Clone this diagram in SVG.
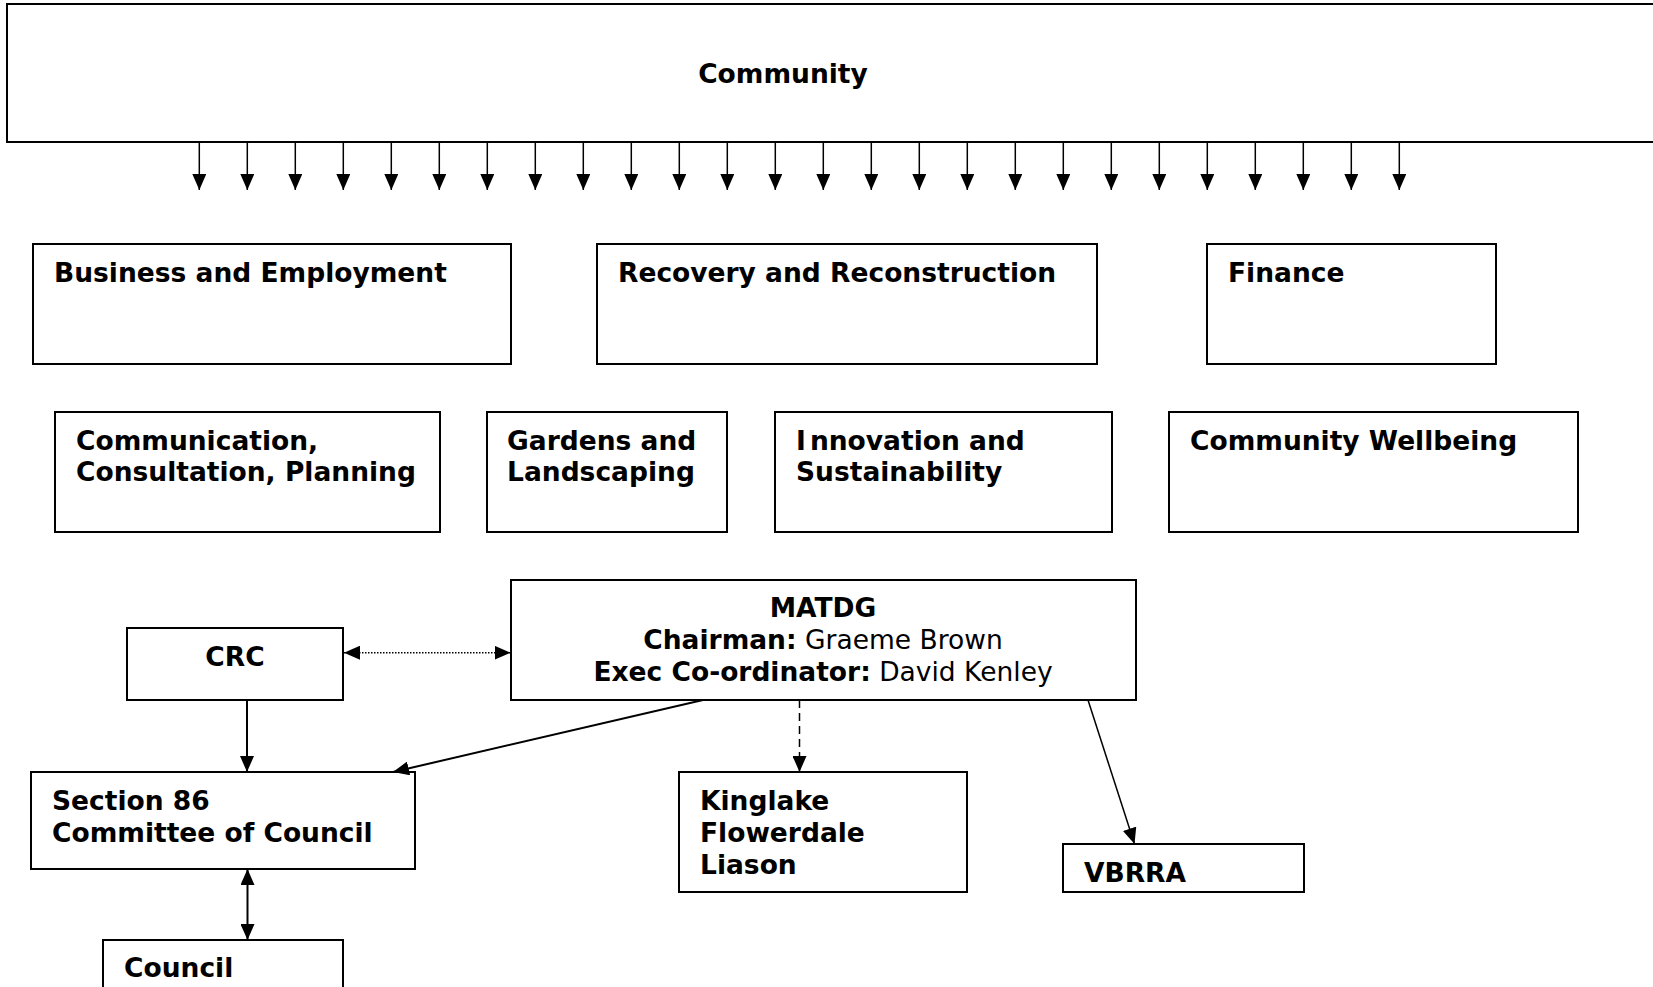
<svg xmlns="http://www.w3.org/2000/svg" width="1653" height="987" viewBox="0 0 1653 987">
<defs>
<style>
.box{fill:#fff;stroke:#000;stroke-width:2}
.t{font-family:"DejaVu Sans","Liberation Sans",sans-serif;font-size:26.5px;font-weight:bold;fill:#000}
.r{font-weight:normal}
.c{stroke:#000;stroke-width:2;fill:none}
.thin{stroke-width:1.5}
.dot{stroke-dasharray:1.5 1.5;stroke-width:1.5}
.dash{stroke-dasharray:8 5;stroke-width:1.5}
</style>
<marker id="ah" markerUnits="userSpaceOnUse" markerWidth="16" markerHeight="14" refX="16" refY="7" orient="auto-start-reverse" viewBox="0 0 16 14">
<path d="M0,0 L16,7 L0,14 z" fill="#000"/>
</marker>
</defs>
<rect width="1653" height="987" fill="#fff"/>

<g id="community">
<rect class="box" x="7" y="4" width="1660" height="138"/>
<text class="t" x="783" y="83" text-anchor="middle">Community</text>
</g>

<g id="business">
<rect class="box" x="33" y="244" width="478" height="120"/>
<text class="t" x="54" y="282">Business and Employment</text>
</g>
<g id="recovery">
<rect class="box" x="597" y="244" width="500" height="120"/>
<text class="t" x="618" y="282">Recovery and Reconstruction</text>
</g>
<g id="finance">
<rect class="box" x="1207" y="244" width="289" height="120"/>
<text class="t" x="1228" y="282">Finance</text>
</g>

<g id="communication">
<rect class="box" x="55" y="412" width="385" height="120"/>
<text class="t" x="76" y="450">Communication,</text>
<text class="t" x="76" y="481">Consultation, Planning</text>
</g>
<g id="gardens">
<rect class="box" x="487" y="412" width="240" height="120"/>
<text class="t" x="507" y="450">Gardens and</text>
<text class="t" x="507" y="481">Landscaping</text>
</g>
<g id="innovation">
<rect class="box" x="775" y="412" width="337" height="120"/>
<text class="t" x="796" y="450">I<tspan dx="4">nnovation and</tspan></text>
<text class="t" x="796" y="481">Sustainability</text>
</g>
<g id="wellbeing">
<rect class="box" x="1169" y="412" width="409" height="120"/>
<text class="t" x="1190" y="450">Community Wellbeing</text>
</g>

<g id="crc">
<rect class="box" x="127" y="628" width="216" height="72"/>
<text class="t" x="235" y="666" text-anchor="middle">CRC</text>
</g>
<g id="matdg">
<rect class="box" x="511" y="580" width="625" height="120"/>
<text class="t" x="823" y="617" text-anchor="middle">MATDG</text>
<text class="t" x="823" y="649" text-anchor="middle">Chairman:<tspan class="r"> Graeme Brown</tspan></text>
<text class="t" x="823" y="681" text-anchor="middle">Exec Co-ordinator:<tspan class="r"> David Kenley</tspan></text>
</g>
<g id="section86">
<rect class="box" x="31" y="772" width="384" height="97"/>
<text class="t" x="52" y="810">Section 86</text>
<text class="t" x="52" y="842">Committee of Council</text>
</g>
<g id="kinglake">
<rect class="box" x="679" y="772" width="288" height="120"/>
<text class="t" x="700" y="810">Kinglake</text>
<text class="t" x="700" y="842">Flowerdale</text>
<text class="t" x="700" y="874">Liason</text>
</g>
<g id="vbrra">
<rect class="box" x="1063" y="844" width="241" height="48"/>
<text class="t" x="1084" y="882">VBRRA</text>
</g>
<g id="council">
<rect class="box" x="103" y="940" width="240" height="80"/>
<text class="t" x="124" y="977">Council</text>
</g>

<g id="connectors">
<line class="c thin" x1="199.3" y1="142" x2="199.3" y2="190" marker-end="url(#ah)"/>
<line class="c thin" x1="247.3" y1="142" x2="247.3" y2="190" marker-end="url(#ah)"/>
<line class="c thin" x1="295.3" y1="142" x2="295.3" y2="190" marker-end="url(#ah)"/>
<line class="c thin" x1="343.3" y1="142" x2="343.3" y2="190" marker-end="url(#ah)"/>
<line class="c thin" x1="391.3" y1="142" x2="391.3" y2="190" marker-end="url(#ah)"/>
<line class="c thin" x1="439.3" y1="142" x2="439.3" y2="190" marker-end="url(#ah)"/>
<line class="c thin" x1="487.3" y1="142" x2="487.3" y2="190" marker-end="url(#ah)"/>
<line class="c thin" x1="535.3" y1="142" x2="535.3" y2="190" marker-end="url(#ah)"/>
<line class="c thin" x1="583.3" y1="142" x2="583.3" y2="190" marker-end="url(#ah)"/>
<line class="c thin" x1="631.3" y1="142" x2="631.3" y2="190" marker-end="url(#ah)"/>
<line class="c thin" x1="679.3" y1="142" x2="679.3" y2="190" marker-end="url(#ah)"/>
<line class="c thin" x1="727.3" y1="142" x2="727.3" y2="190" marker-end="url(#ah)"/>
<line class="c thin" x1="775.3" y1="142" x2="775.3" y2="190" marker-end="url(#ah)"/>
<line class="c thin" x1="823.3" y1="142" x2="823.3" y2="190" marker-end="url(#ah)"/>
<line class="c thin" x1="871.3" y1="142" x2="871.3" y2="190" marker-end="url(#ah)"/>
<line class="c thin" x1="919.3" y1="142" x2="919.3" y2="190" marker-end="url(#ah)"/>
<line class="c thin" x1="967.3" y1="142" x2="967.3" y2="190" marker-end="url(#ah)"/>
<line class="c thin" x1="1015.3" y1="142" x2="1015.3" y2="190" marker-end="url(#ah)"/>
<line class="c thin" x1="1063.3" y1="142" x2="1063.3" y2="190" marker-end="url(#ah)"/>
<line class="c thin" x1="1111.3" y1="142" x2="1111.3" y2="190" marker-end="url(#ah)"/>
<line class="c thin" x1="1159.3" y1="142" x2="1159.3" y2="190" marker-end="url(#ah)"/>
<line class="c thin" x1="1207.3" y1="142" x2="1207.3" y2="190" marker-end="url(#ah)"/>
<line class="c thin" x1="1255.3" y1="142" x2="1255.3" y2="190" marker-end="url(#ah)"/>
<line class="c thin" x1="1303.3" y1="142" x2="1303.3" y2="190" marker-end="url(#ah)"/>
<line class="c thin" x1="1351.3" y1="142" x2="1351.3" y2="190" marker-end="url(#ah)"/>
<line class="c thin" x1="1399.3" y1="142" x2="1399.3" y2="190" marker-end="url(#ah)"/>
<line class="c dot" x1="344" y1="652.7" x2="510.5" y2="652.7" marker-start="url(#ah)" marker-end="url(#ah)"/>
<line class="c" x1="247" y1="700" x2="247" y2="772" marker-end="url(#ah)"/>
<line class="c" x1="247.5" y1="869" x2="247.5" y2="940" marker-start="url(#ah)" marker-end="url(#ah)"/>
<line class="c" x1="703" y1="700" x2="393" y2="772" marker-end="url(#ah)"/>
<line class="c dash" x1="799.5" y1="700" x2="799.5" y2="772" marker-end="url(#ah)"/>
<line class="c thin" x1="1088" y1="700" x2="1134.5" y2="844" marker-end="url(#ah)"/>
</g>
</svg>
